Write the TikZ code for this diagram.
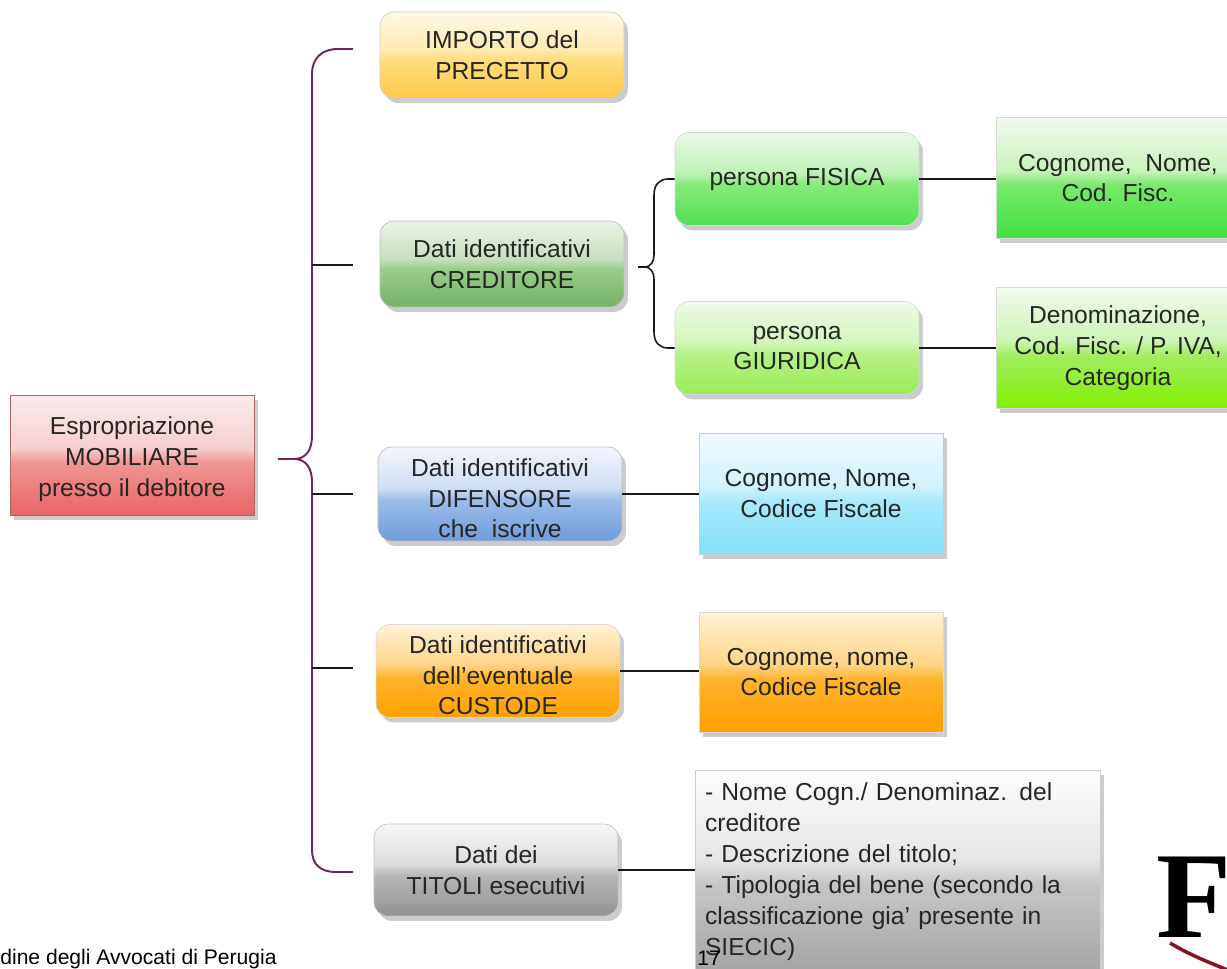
\documentclass[tikz,border=0pt]{standalone}
\usepackage{fontspec}
\setmainfont{Liberation Sans}
\newfontfamily\logofont{Liberation Serif}
\usepackage{tikz}
\usetikzlibrary{shadows}
\usetikzlibrary{calc}

\newcommand{\glossdef}[5]{%
  \definecolor{#1a}{HTML}{#2}\definecolor{#1b}{HTML}{#3}%
  \definecolor{#1c}{HTML}{#4}\definecolor{#1d}{HTML}{#5}%
  \pgfdeclareverticalshading{#1}{100bp}{color(0bp)=(#1d); color(25bp)=(#1d);
    color(47bp)=(#1c); color(53bp)=(#1b); color(75bp)=(#1a); color(100bp)=(#1a)}}
\glossdef{redgloss}{FBECEC}{F6CFCF}{F09696}{E86464}
\glossdef{yellowgloss}{FFF9E6}{FFE9B0}{FFDC7C}{FFC94A}
\glossdef{olivegloss}{EAF3E6}{C6E0BE}{98CC8A}{74B366}
\glossdef{limegloss}{E9F8E8}{BDF1B6}{84EA78}{52E052}
\glossdef{springgloss}{F0F9EA}{D2F6B8}{B6F188}{9AEC56}
\glossdef{leafgloss}{F2F9F0}{C8F2BC}{78E96A}{40E040}
\glossdef{grassgloss}{F2F9F0}{CDF4B4}{A0EE60}{80F000}
\glossdef{bluegloss}{F2F5FC}{CFDDF3}{9CBDEA}{6E9DD9}
\glossdef{cyangloss}{F2FBFF}{D0F2FC}{A8EAFC}{84E1FA}
\glossdef{orangegloss}{FFF2D6}{FFD384}{FFB42C}{FFA000}
\glossdef{greygloss}{F6F6F6}{DCDCDC}{B6B6B6}{929292}
\glossdef{paleglossy}{FDFDFD}{E6E6E6}{C6C6C6}{A4A4A4}
\newcommand{\lowstrut}{\rule{0pt}{15pt}}

\begin{document}
\begin{tikzpicture}
  [x=0.02cm,y=-0.02cm,
  boxbase/.style={shade,thin,align=center,text=black!85,inner sep=0pt,minimum width=4.88cm,
    font=\fontsize{14}{17.6}\selectfont,
    drop shadow={shadow xshift=0.08cm,shadow yshift=-0.1cm,fill=black!40,opacity=0.5}},
  roundbox/.style={boxbase,rounded corners=0.28cm},
  squarebox/.style={boxbase},
  brace/.style={draw={rgb,255:red,122;green,31;blue,92},line width=1.1pt},
  link/.style={draw=black!90,line width=1.1pt},
  smalltext/.style={anchor=west,inner sep=0pt,font=\fontsize{12}{14}\selectfont}]
  \clip (0,0) rectangle (1227,969);

  \node[squarebox,shading=redgloss,draw=red!45!black!60,minimum height=2.4cm] (root) at (132,455) {\lowstrut Espropriazione\\MOBILIARE\\presso il debitore};

  \node[roundbox,shading=yellowgloss,draw=black!20,minimum height=1.72cm] (importo) at (502,55) {IMPORTO del\\PRECETTO};
  \node[roundbox,shading=olivegloss,draw=black!25,minimum height=1.72cm] (creditore) at (502,264) {Dati identificativi\\CREDITORE};
  \node[roundbox,shading=bluegloss,draw=black!25,minimum height=1.88cm] (difensore) at (500,494) {\lowstrut Dati identificativi\\DIFENSORE\\che\ \ iscrive};
  \node[roundbox,shading=orangegloss,draw=black!15,minimum height=1.86cm] (custode) at (498,671) {\lowstrut Dati identificativi\\dell'eventuale\\CUSTODE};
  \node[roundbox,shading=greygloss,draw=black!25,minimum height=1.84cm] (titoli) at (496,870) {Dati dei\\TITOLI esecutivi};

  \node[roundbox,shading=limegloss,draw=black!15,minimum height=1.86cm] (fisica) at (797,179) {persona FISICA};
  \node[roundbox,shading=springgloss,draw=black!15,minimum height=1.86cm] (giuridica) at (797,348) {persona\\GIURIDICA};

  \node[squarebox,shading=leafgloss,draw=black!15,minimum height=2.42cm] (cogfisica) at (1118,178) {Cognome,\ \ Nome,\\Cod. Fisc.};
  \node[squarebox,shading=grassgloss,draw=black!15,minimum height=2.42cm] (denom) at (1118,348) {Denominazione,\\Cod. Fisc. / P. IVA,\\Categoria};
  \node[squarebox,shading=cyangloss,draw=black!20,minimum height=2.42cm] (cogdif) at (821,493.5) {Cognome, Nome,\\Codice Fiscale};
  \node[squarebox,shading=orangegloss,draw=black!15,minimum height=2.4cm] (cogcust) at (821,672) {Cognome, nome,\\Codice Fiscale};
  \node[squarebox,shading=paleglossy,draw=black!20,minimum width=8.1cm,minimum height=4.06cm,align=left,text width=7.7cm] (desctitoli) at (897.5,871.5) {- Nome Cogn./ Denominaz. del\\creditore\\- Descrizione del titolo;\\- Tipologia del bene (secondo la\\classificazione gia' presente in\\SIECIC)};

  % graffa principale
  \coordinate (tipmain) at (278,459);
  \coordinate (endimporto) at (353,49);
  \coordinate (endtitoli) at (353,872);
  \draw[brace] (tipmain) -- (294,459) .. controls (306,459) and (312,450) .. (312,436) -- (312,74) .. controls (312,58) and (322,49) .. (338,49) -- (endimporto);
  \draw[brace] (tipmain) -- (294,459) .. controls (306,459) and (312,468) .. (312,482) -- (312,850) .. controls (312,864) and (320,872) .. (336,872) -- (endtitoli);

  \coordinate (spinecred) at (312,265);
  \coordinate (spinedif) at (312,494);
  \coordinate (spinecust) at (312,668);
  \coordinate (endcred) at (353,265);
  \coordinate (enddif) at (353,494);
  \coordinate (endcust) at (353,668);
  \draw[link] (spinecred) -- (endcred);
  \draw[link] (spinedif) -- (enddif);
  \draw[link] (spinecust) -- (endcust);

  % graffa creditore
  \coordinate (tipcred) at (638,267);
  \draw[link,line width=0.9pt] (tipcred) -- (644,267) .. controls (651,267) and (654,262) .. (654,254) -- (654,195) .. controls (654,184) and (660,179) .. (668,179) -- (fisica.west);
  \draw[link,line width=0.9pt] (tipcred) -- (644,267) .. controls (651,267) and (654,272) .. (654,280) -- (654,332) .. controls (654,343) and (660,348) .. (668,348) -- (giuridica.west);

  \draw[link] (fisica.east) -- (cogfisica.west |- fisica.east);
  \draw[link] (giuridica.east) -- (denom.west);
  \draw[link] (difensore.east) -- (cogdif.west |- difensore.east);
  \draw[link] (custode.east) -- (cogcust.west |- custode.east);
  \draw[link] (titoli.east) -- (desctitoli.west |- titoli.east);

  \node[smalltext] (footer) at (0,959) {dine degli Avvocati di Perugia};
  \node[smalltext] (pagenum) at (697,958) {17};

  \node[anchor=base west,inner sep=0pt,font=\logofont\bfseries\fontsize{70}{70}\selectfont] (logo) at (1156,937) {F};
  \draw[draw={rgb,255:red,130;green,20;blue,40},line width=2pt] (1170,943) .. controls (1190,955) and (1208,962) .. (1230,971);
\end{tikzpicture}
\end{document}
